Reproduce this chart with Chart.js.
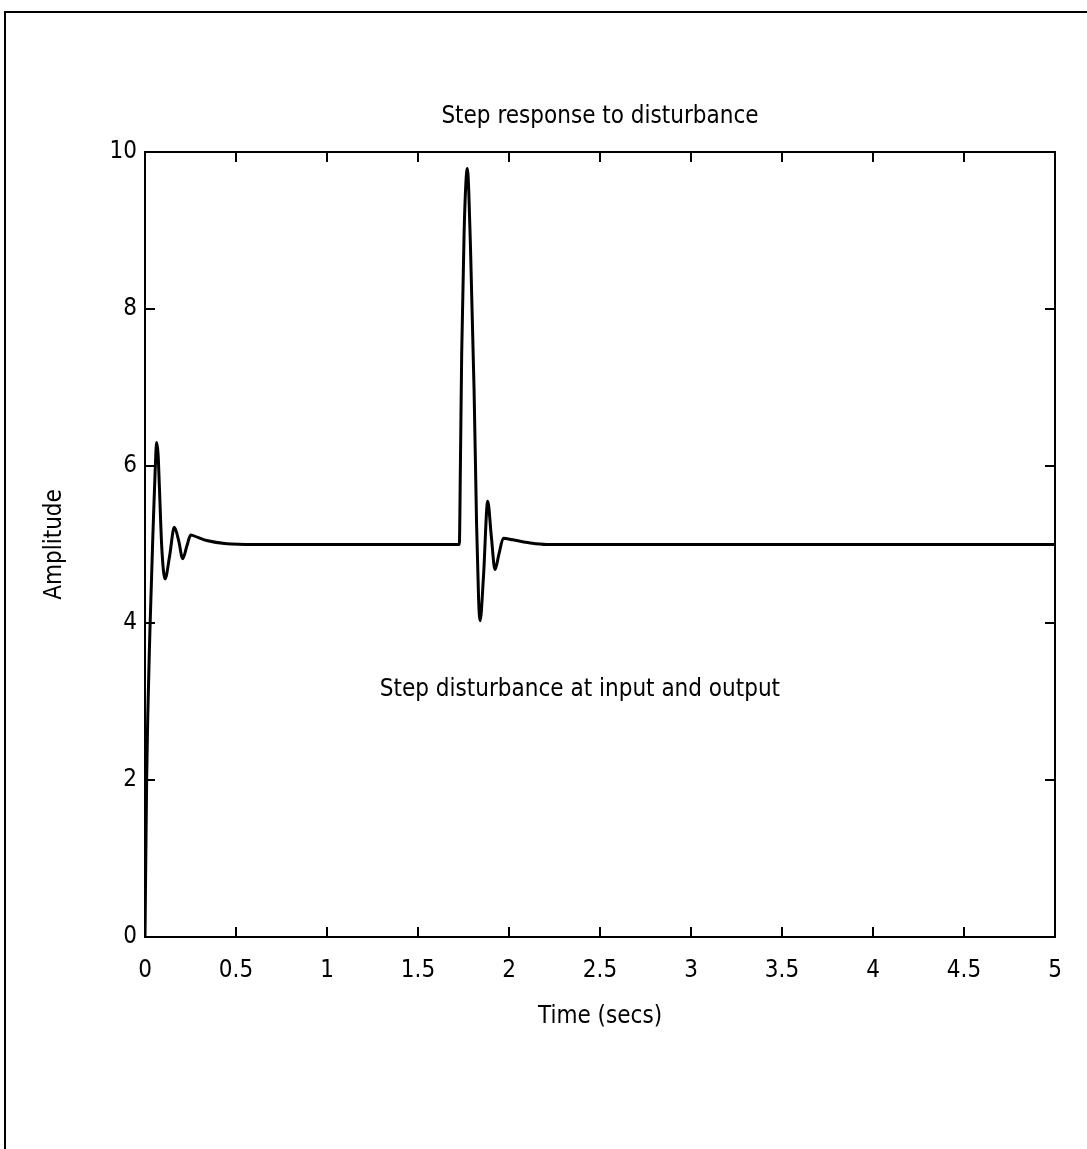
<!DOCTYPE html>
<html>
<head>
<meta charset="utf-8">
<script src="https://cdn.jsdelivr.net/npm/chart.js@4"></script>
<style>
  html, body { margin: 0; padding: 0; background: #fff; }
  #wrap { position: relative; width: 1087px; height: 1149px; }
  #frame { position: absolute; left: 4px; top: 11px; right: -2px; bottom: -2px;
           border-top: 2px solid #000; border-left: 2px solid #000; pointer-events: none; }
  canvas { position: absolute; left: 0; top: 0; }
</style>
</head>
<body>
<div id="wrap">
  <canvas id="chart" width="1087" height="1149"></canvas>
  <div id="frame"></div>
</div>
<script>
const FONT = '"Liberation Sans Narrow", "DejaVu Sans Condensed", "DejaVu Sans", sans-serif'

// step response
const times = [0, 0.009, 0.027, 0.046, 0.056, 0.064, 0.072, 0.079, 0.092, 0.110, 0.135, 0.161,
  0.185, 0.207, 0.23, 0.251, 0.29, 0.339, 0.449, 0.6, 0.9, 1.2, 1.5, 1.727, 1.733, 1.740, 1.753,
  1.763, 1.771, 1.779, 1.789, 1.808, 1.822, 1.833, 1.841, 1.86, 1.883, 1.903, 1.923, 1.945, 1.969,
  2.02, 2.115, 2.207, 2.5, 3, 3.5, 4, 4.5, 5]
const amplitude = [0, 2.0, 3.9, 5.3, 5.95, 6.3, 6.15, 5.74, 4.97, 4.56, 4.85, 5.22,
  5.05, 4.82, 4.98, 5.12, 5.09, 5.05, 5.01, 5.0, 5.0, 5.0, 5.0, 5.0, 6.0, 7.42, 8.94,
  9.6, 9.79, 9.5, 8.73, 6.98, 5.25, 4.3, 4.03, 4.6, 5.55, 5.1, 4.68, 4.88, 5.08,
  5.06, 5.02, 5.0, 5.0, 5.0, 5.0, 5.0, 5.0, 5.0]
const xTicks = [0, 0.5, 1, 1.5, 2, 2.5, 3, 3.5, 4, 4.5, 5]
const yTicks = [0, 2, 4, 6, 8, 10]

const titleText = 'Step response to disturbance'
const xLabel = 'Time (secs)'
const yLabel = 'Amplitude'
const note = { x: 1.29, y: 3.15, text: 'Step disturbance at input and output' }

const points = times.map((t, i) => ({ x: t, y: amplitude[i] }))

const boxPlugin = {
  id: 'box',
  afterDraw(chart) {
    const { ctx, chartArea: a, scales } = chart
    const sx = scales.x, sy = scales.y
    ctx.save()
    ctx.strokeStyle = '#000'
    ctx.lineWidth = 2
    ctx.strokeRect(a.left, a.top, a.right - a.left, a.bottom - a.top)
    // inward ticks on all four sides
    ctx.beginPath()
    xTicks.forEach(v => {
      const px = sx.getPixelForValue(v)
      ctx.moveTo(px, a.bottom); ctx.lineTo(px, a.bottom - 10)
      ctx.moveTo(px, a.top); ctx.lineTo(px, a.top + 10)
    })
    yTicks.forEach(v => {
      const py = sy.getPixelForValue(v)
      ctx.moveTo(a.left, py); ctx.lineTo(a.left + 10, py)
      ctx.moveTo(a.right, py); ctx.lineTo(a.right - 10, py)
    })
    ctx.stroke()

    ctx.fillStyle = '#000'
    ctx.font = '24px ' + FONT
    ctx.textBaseline = 'middle'
    ctx.textAlign = 'center'
    ctx.fillText(titleText, (a.left + a.right) / 2, 117)
    ctx.fillText(xLabel, (a.left + a.right) / 2, 1017)
    ctx.textAlign = 'left'
    ctx.fillText(note.text, sx.getPixelForValue(note.x), sy.getPixelForValue(note.y))
    ctx.translate(55, (a.top + a.bottom) / 2)
    ctx.rotate(-Math.PI / 2)
    ctx.textAlign = 'center'
    ctx.fillText(yLabel, 0, 0)
    ctx.restore()
  }
}

new Chart(document.getElementById('chart'), {
  type: 'line',
  data: {
    datasets: [{
      data: points,
      borderColor: '#000',
      borderWidth: 3,
      pointRadius: 0,
      cubicInterpolationMode: 'monotone',
      fill: false
    }]
  },
  options: {
    responsive: false,
    animation: false,
    layout: { padding: { top: 152, right: 32, left: 0, bottom: 0 } },
    plugins: { legend: { display: false }, tooltip: { enabled: false } },
    scales: {
      x: {
        type: 'linear', min: 0, max: 5,
        afterBuildTicks: s => { s.ticks = xTicks.map(v => ({ value: v })) },
        afterFit: s => { s.height = 1149 - 937 },
        grid: { display: false, drawTicks: false },
        border: { display: false },
        ticks: { color: '#000', padding: 19, maxRotation: 0, font: { family: FONT, size: 24 },
          callback: v => String(v) }
      },
      y: {
        min: 0, max: 10,
        afterBuildTicks: s => { s.ticks = yTicks.map(v => ({ value: v })) },
        afterFit: s => { s.width = 145 },
        grid: { display: false, drawTicks: false },
        border: { display: false },
        ticks: { color: '#000', padding: 8, font: { family: FONT, size: 24 },
          callback: v => String(v) }
      }
    }
  },
  plugins: [boxPlugin]
})
</script>
</body>
</html>
